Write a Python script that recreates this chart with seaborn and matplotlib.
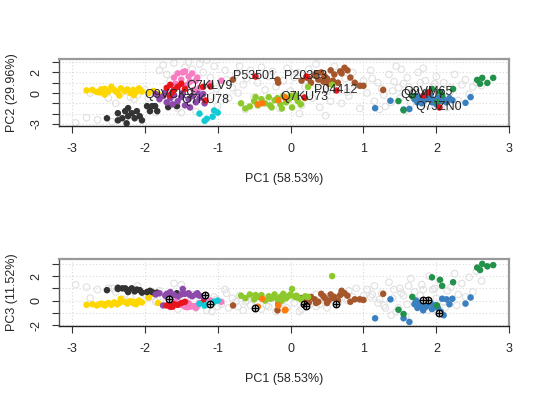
import numpy as np
import pandas as pd
import matplotlib
matplotlib.use("Agg")
import matplotlib.pyplot as plt
import seaborn as sns

sns.set_style("white")
plt.rcParams["font.family"] = ["Liberation Sans", "DejaVu Sans"]
plt.rcParams["axes.unicode_minus"] = False

# marker classes: pc1, pc2, pc3
yellow_pc1 = [-2.80, -2.72, -2.66, -2.60, -2.55, -2.50, -2.46, -2.42, -2.38, -2.33, -2.28, -2.24,
              -2.20, -2.16, -2.12, -2.08, -2.04, -2.55, -2.35, -2.62, -2.15, -1.95, -1.88, -1.82]
yellow_pc2 = [0.25, 0.30, 0.10, 0.35, 0.40, 0.15, 0.60, 0.30, 0.05, 0.45, 0.20, 0.35,
              0.00, 0.30, 0.10, 0.45, 0.15, -0.15, -0.25, 0.05, -0.20, 0.00, 0.20, -0.10]
yellow_pc3 = [-0.35, -0.30, -0.40, -0.25, -0.30, -0.20, -0.35, -0.15, -0.30, 0.15, -0.10, -0.25,
              -0.05, -0.20, -0.30, 0.00, -0.15, -0.40, -0.20, -0.30, -0.10, 0.25, 0.55, -0.20]

black_pc1 = [-2.52, -2.37, -2.37, -2.27, -2.23, -2.23, -2.25, -2.18, -2.14, -2.07,
             -2.04, -1.97, -1.93, -1.86, -1.83, -1.68, -1.56, -2.31, -2.11, -1.90]
black_pc2 = [-2.45, -1.96, -2.65, -1.76, -1.47, -2.25, -2.94, -1.96, -2.45, -2.25,
             -2.65, -1.27, -1.76, -1.27, -1.76, -1.37, -1.27, -2.45, -1.76, -1.27]
black_pc3 = [0.85, 1.05, 0.95, 1.00, 0.80, 0.70, 0.90, 1.00, 0.75, 0.85,
             0.65, 0.70, 0.80, 0.60, 0.65, 0.55, 0.60, 1.00, 0.90, 0.70]

purple_pc1 = [-1.85, -1.80, -1.75, -1.70, -1.65, -1.60, -1.55, -1.50, -1.45, -1.40,
              -1.35, -1.30, -1.25, -1.20, -1.18, -1.48, -1.62, -1.38, -1.28, -1.72]
purple_pc2 = [-0.10, -0.60, -0.30, -0.90, -0.50, -0.20, -0.80, -0.40, -1.20, -0.60,
              -0.30, -0.90, -0.50, -0.10, -1.00, 0.00, -1.10, -1.40, 0.10, 0.05]
purple_pc3 = [0.50, 0.60, -0.40, 0.55, 0.70, 0.45, 0.30, 0.50, 0.55, 0.60,
              0.35, 0.50, 0.40, 0.30, 0.20, 0.95, -0.10, 0.45, 0.60, 0.40]

pink_pc1 = [-1.55, -1.45, -1.40, -1.35, -1.30, -1.50, -1.58, -1.42, -1.28, -1.48,
            -1.38, -1.60, -1.25, -1.33, -1.10, -0.95]
pink_pc2 = [1.90, 2.10, 1.60, 1.90, 1.20, 1.30, 0.90, 0.80, 1.50, 2.00,
            1.10, 1.50, 0.50, 0.30, 0.90, 1.20]
pink_pc3 = [-0.30, -0.50, -0.20, -0.45, -0.60, -0.35, -0.10, -0.55, -0.40, -0.25,
            -0.50, -0.30, -0.20, -0.45, 0.00, -0.10]

red_pc1 = [-1.70, -1.65, -1.60, -1.55, -1.50, -1.62, -1.45, -1.20]
red_pc2 = [0.50, 0.80, 0.30, 0.60, 0.90, 0.10, 0.40, 0.60]
red_pc3 = [-0.40, -0.50, -0.30, -0.35, -0.20, -0.50, -0.10, -0.15]

cyan_pc1 = [-1.25, -1.15, -1.07, -1.05, -1.18, -1.00]
cyan_pc2 = [-2.00, -2.50, -2.30, -1.70, -2.70, -1.90]
cyan_pc3 = [-0.25, -0.35, -0.20, -0.10, -0.40, 0.00]

brown_pc1 = [-0.79, -0.18, -0.17, 0.15, 0.22, 0.28, 0.33, 0.38, 0.42, 0.47, 0.50, 0.55, 0.60, 0.65,
             0.70, 0.74, 0.78, 0.82, 0.88, 0.95, 1.00, 1.27, 0.45, 0.35, 0.25, 0.58, 0.68, 0.52]
brown_pc2 = [1.30, 1.30, 1.00, 1.20, 1.50, 1.00, 1.70, 1.30, 2.00, 1.60, 1.40, 2.20, 1.80, 1.00,
             1.90, 2.45, 2.20, 1.50, 1.00, 0.70, 0.70, 0.30, 1.10, 1.90, 1.40, 1.20, 2.10, 0.90]
brown_pc3 = [-0.40, -0.80, -0.30, 0.20, 0.00, 0.30, 0.10, -0.10, 0.55, 0.20, -0.20, 0.50, 0.30, 0.00,
             0.80, 0.60, 0.40, -0.10, 0.10, 0.10, 0.05, 0.55, 0.35, -0.20, -0.15, 0.20, 0.45, 0.00]

ygreen_pc1 = [-0.68, -0.62, -0.56, -0.50, -0.45, -0.40, -0.35, -0.30, -0.26, -0.22, -0.18, -0.14, -0.10, -0.06,
              -0.02, 0.02, 0.06, 0.10, 0.14, 0.20, -0.48, -0.28, -0.12, 0.00, 0.08, 0.24, 0.57]
ygreen_pc2 = [-1.00, -1.50, -1.30, -0.80, -1.20, -0.60, -1.00, -0.40, -1.40, -0.70, -0.50, -1.10, -0.30, -0.90,
              -0.60, -1.40, -0.20, -0.80, -1.10, -0.50, -0.40, -1.20, -1.50, -0.30, -0.50, 0.60, 0.80]
ygreen_pc3 = [0.40, 0.20, 0.50, 0.10, 0.30, 0.45, 0.00, 0.35, 0.20, 0.50, 0.10, 0.30, 0.55, 0.20,
              0.40, 0.95, 0.30, 0.25, 0.10, 0.35, 0.45, 0.15, 0.00, 0.50, 0.40, 0.30, 2.00]

orange_pc1 = [-0.45, -0.39, -0.17, -0.08, -0.07]
orange_pc2 = [-1.10, -1.00, -0.70, -0.40, -0.50]
orange_pc3 = [-0.50, 0.15, -0.40, -0.80, -0.75]

blue_pc1 = [1.16, 1.37, 1.55, 1.63, 1.70, 1.74, 1.78, 1.82, 1.86, 1.90, 1.94, 1.98, 2.02,
            2.06, 2.10, 2.14, 2.18, 2.22, 2.40, 2.47, 1.80, 1.92, 2.00, 1.72, 2.08, 1.88]
blue_pc2 = [-1.47, -0.75, -1.60, -1.55, -0.60, -0.90, -0.50, -0.80, -0.60, -0.40, -0.90, -0.70, -0.50,
            -0.80, -0.60, -0.90, -0.50, -0.70, -0.95, -0.40, -1.00, -0.30, -1.10, -0.30, -0.40, -0.20]
blue_pc3 = [-1.45, 0.10, -1.45, -1.75, -0.30, -0.60, -0.20, -0.80, -0.50, -0.10, -0.70, -0.40, -0.60,
            -0.90, -1.20, 0.10, -0.30, 0.15, -0.25, 0.25, -0.50, -0.20, -0.40, 0.00, 0.15, -0.30]

green_pc1 = [1.48, 1.55, 1.67, 1.94, 2.05, 2.08, 2.23, 2.01, 2.56, 2.63, 2.70, 2.78, 2.60]
green_pc2 = [-0.78, -1.67, -0.30, 0.39, 0.10, -0.20, 0.39, -0.90, 1.27, 1.47, 0.98, 1.47, 0.90]
green_pc3 = [-0.75, -1.10, 0.30, 1.90, 1.70, 1.20, 1.50, -0.40, 2.70, 3.00, 2.80, 2.90, 2.50]

# unlabelled proteins (open grey circles)
unk_pc1 = [-2.95, -2.80, -2.65, -2.75, -2.50, -2.40, -2.30, -2.20, -2.10, -2.00, -2.45, -2.15,
           -1.95, -1.90, -1.85, -1.80, -1.75, -1.70, -1.65, -1.60, -1.55, -1.50, -1.45, -1.40,
           -1.35, -1.30, -1.25, -1.20, -1.15, -1.10, -1.05, -1.00, -1.02, -1.08,
           -0.95, -0.90, -0.85, -0.80, -0.75, -0.70, -0.65, -0.60, -0.55, -0.50, -0.45, -0.40,
           -0.35, -0.30, -0.25, -0.20, -0.15, -0.10, -0.05, 0.00, -0.62, -0.88, -0.33, -0.72,
           0.05, 0.10, 0.15, 0.20, 0.25, 0.30, 0.35, 0.40, 0.45, 0.50, 0.55, 0.60,
           0.65, 0.70, 0.75, 0.80, 0.85, 0.90, 0.95, 1.00, 0.12, 0.48, 0.78, 0.35,
           1.05, 1.10, 1.15, 1.20, 1.25, 1.30, 1.35, 1.40, 1.45, 1.50, 1.55, 1.60,
           1.65, 1.70, 1.75, 1.80, 1.85, 1.90, 1.95, 2.00, 2.05, 2.10, 2.15, 2.20,
           2.25, 2.30, 2.35, 2.40, 2.45, 2.50, 2.55, 2.62, 1.12, 1.28, 1.42, 1.58,
           1.72, 1.88, 2.02, 2.18, 1.38, 1.62, 1.78, 1.98, 2.12, 1.22, 1.52, 1.82,
           2.28, 1.48]
unk_pc2 = [-2.90, -2.40, -2.60, 0.00, -0.50, -1.00, 0.10, -0.40, -0.20, 0.30, -2.80, -0.60,
           -0.50, 0.10, -1.90, 2.20, 2.70, 1.80, 1.20, 2.90, -1.50, -1.90, 2.50, 3.00,
           2.30, -1.80, 2.80, 2.00, 3.20, 1.50, 2.60, -1.20, 0.40, -0.30,
           1.00, 2.20, -0.50, 0.50, 1.80, 2.60, 0.80, 1.40, 2.20, -0.40, 1.00, 2.50,
           0.30, 1.60, 2.10, 0.60, -1.50, 1.20, 2.40, 0.20, -1.60, 1.30, -0.80, 0.00,
           1.50, 2.00, -1.20, 0.60, 2.30, -0.50, 0.90, -1.40, 1.80, 0.20, -0.80, 2.60,
           0.50, -1.00, 1.40, -0.30, 2.00, 0.80, -1.50, 1.20, -2.00, -2.20, 0.10, 2.80,
           0.00, 2.20, -0.80, 1.00, 0.40, -1.30, 1.80, 0.20, 2.60, -0.50, 0.90, 1.50,
           -1.00, 0.30, 2.00, -0.40, 1.20, -1.20, 0.60, 1.60, -0.20, 1.00, -1.40, 0.50,
           1.80, -0.70, 0.80, 1.30, -0.10, 0.60, 1.00, 0.70, 1.40, -0.20, 1.10, -1.70,
           -0.80, 0.10, -0.60, 0.00, -0.90, 0.60, 1.00, 0.90, -0.90, -1.60, 2.30, 2.40,
           -1.10, 0.50]
unk_pc3 = [1.30, 1.10, 0.90, 0.20, 1.00, 0.70, 0.10, 0.30, 1.20, 0.50, 1.00, -0.20,
           0.20, 0.40, -0.10, 0.80, 0.30, 0.00, -0.50, 1.40, -0.70, 1.30, 0.20, -0.30,
           0.50, -0.60, 0.00, -0.40, -0.80, -0.20, 0.30, -0.50, 0.10, -0.90,
           -0.30, 0.90, -0.60, 0.20, -0.10, 0.40, -0.80, 0.00, -0.40, 0.30, -0.20, -0.70,
           0.10, -0.50, 0.20, -0.90, -0.30, 0.00, -0.60, 0.40, -0.10, 0.60, -0.40, -0.50,
           -0.20, 0.30, -0.70, 0.10, -0.40, 0.00, 0.50, -0.30, 0.20, -0.60, 0.40, 0.00,
           -0.20, 0.60, 0.20, 0.80, 0.30, 1.00, 0.10, 0.40, -0.90, 0.30, 0.00, -0.50,
           0.90, 0.30, 1.20, -0.20, 0.60, -0.60, 1.50, 0.20, -0.90, 1.00, 0.40, -0.30,
           1.80, 0.70, 0.00, 1.30, -0.50, 2.00, 0.90, 0.20, 1.60, -0.10, 0.80, 1.10,
           2.20, 0.50, 1.40, 0.30, 1.90, 0.70, 2.40, 1.60, 0.50, -0.40, 0.90, -1.30,
           -0.10, -0.80, -1.00, 0.00, -1.20, 1.20, 0.40, 1.00, -0.60, 0.10, 0.60, 0.90,
           -0.40, -0.60]

# highlighted proteins
hl_names = ["Q9VCK9", "Q7KU78", "Q7KLV9", "P53501", "Q7KU73",
            "P20353", "P04412", "Q9VM65", "Q9VIU7", "Q7JZN0"]
hl_pc1 = [-1.67, -1.17, -1.11, -0.49, 0.19, 0.21, 0.62, 1.88, 1.81, 2.03]
hl_pc2 = [-0.20, -0.69, 0.69, 1.67, -0.39, 1.67, 0.29, 0.10, -0.20, -1.37]
hl_pc3 = [0.16, 0.48, -0.32, -0.63, -0.24, -0.48, -0.24, 0.08, 0.08, -1.03]

classes = [
    ("yellow", "#FFD700", yellow_pc1, yellow_pc2, yellow_pc3),
    ("black", "#333333", black_pc1, black_pc2, black_pc3),
    ("purple", "#8E4AAB", purple_pc1, purple_pc2, purple_pc3),
    ("pink", "#F77DC3", pink_pc1, pink_pc2, pink_pc3),
    ("red", "#E8141C", red_pc1, red_pc2, red_pc3),
    ("cyan", "#12C9D6", cyan_pc1, cyan_pc2, cyan_pc3),
    ("brown", "#A6562B", brown_pc1, brown_pc2, brown_pc3),
    ("ygreen", "#8DC92D", ygreen_pc1, ygreen_pc2, ygreen_pc3),
    ("orange", "#FF7B0D", orange_pc1, orange_pc2, orange_pc3),
    ("blue", "#3A7FBF", blue_pc1, blue_pc2, blue_pc3),
    ("green", "#22914A", green_pc1, green_pc2, green_pc3),
]
pal = {name: col for name, col, *_ in classes}
frames = [pd.DataFrame({"PC1": a, "PC2": b, "PC3": c, "cls": name})
          for name, col, a, b, c in classes]
df = pd.concat(frames, ignore_index=True)
unk = pd.DataFrame({"PC1": unk_pc1, "PC2": unk_pc2, "PC3": unk_pc3})
hl = pd.DataFrame({"PC1": hl_pc1, "PC2": hl_pc2, "PC3": hl_pc3, "name": hl_names})

fig = plt.figure(figsize=(5.4, 4.0), dpi=100)
ax1 = fig.add_axes([0.109, 0.685, 0.834, 0.1675])
ax2 = fig.add_axes([0.109, 0.185, 0.834, 0.1675])

fs = 9
msize = 22
for ax, yc, ylim, yt, ylab, ylabels in [
        (ax1, "PC2", (-3.2, 3.3), [-3, -2, -1, 0, 1, 2, 3], "PC2 (29.96%)",
         ["-3", "", "", "0", "", "2", ""]),
        (ax2, "PC3", (-2.08, 3.4), [-2, -1, 0, 1, 2, 3], "PC3 (11.52%)",
         ["-2", "", "0", "", "2", ""])]:
    ax.grid(True, color="#d9d9d9", linestyle=(0, (1, 2)), linewidth=0.8)
    ax.set_axisbelow(True)
    sns.scatterplot(data=unk, x="PC1", y=yc, ax=ax, s=msize, marker="o",
                    facecolors="none", edgecolor="#e0e0e0", linewidth=0.8, legend=False)
    sns.scatterplot(data=df, x="PC1", y=yc, hue="cls", palette=pal, ax=ax,
                    s=msize, linewidth=0, legend=False)
    ax.set_xlim(-3.18, 3.0)
    ax.set_ylim(*ylim)
    ax.set_xticks([-3, -2, -1, 0, 1, 2, 3])
    ax.set_xticklabels(["-3", "-2", "-1", "0", "1", "2", "3"])
    ax.set_yticks(yt)
    ax.set_yticklabels(ylabels)
    ax.tick_params(axis="both", direction="out", length=5, width=0.8, color="#333333",
                   labelsize=fs, pad=7, left=True, bottom=True)
    for lab in ax.get_yticklabels():
        lab.set_rotation(90)
        lab.set_va("center")
    ax.set_xlabel("PC1 (58.53%)", fontsize=fs, labelpad=13)
    ax.set_ylabel(ylab, fontsize=fs, labelpad=9)
    for side in ["top", "right"]:
        ax.spines[side].set_color("#999999")
        ax.spines[side].set_linewidth(1.6)
    ax.spines["left"].set_color("#555555")
    ax.spines["bottom"].set_color("#222222")
    for side in ["left", "bottom"]:
        ax.spines[side].set_linewidth(1.0)

# top panel: highlighted proteins in red with their accessions
sns.scatterplot(data=hl, x="PC1", y="PC2", ax=ax1, s=msize, color="#E8141C",
                linewidth=0, legend=False)
for _, r in hl.iterrows():
    ax1.text(r["PC1"], r["PC2"], r["name"], fontsize=fs, ha="center", va="center")

# bottom panel: highlighted proteins as circled crosses
sns.scatterplot(data=hl, x="PC1", y="PC3", ax=ax2, s=msize, marker="o",
                facecolors="white", edgecolor="black", linewidth=1.0, legend=False)
sns.scatterplot(data=hl, x="PC1", y="PC3", ax=ax2, s=msize, marker="+",
                color="black", linewidth=1.0, legend=False)

fig.savefig("out.png", dpi=100)
